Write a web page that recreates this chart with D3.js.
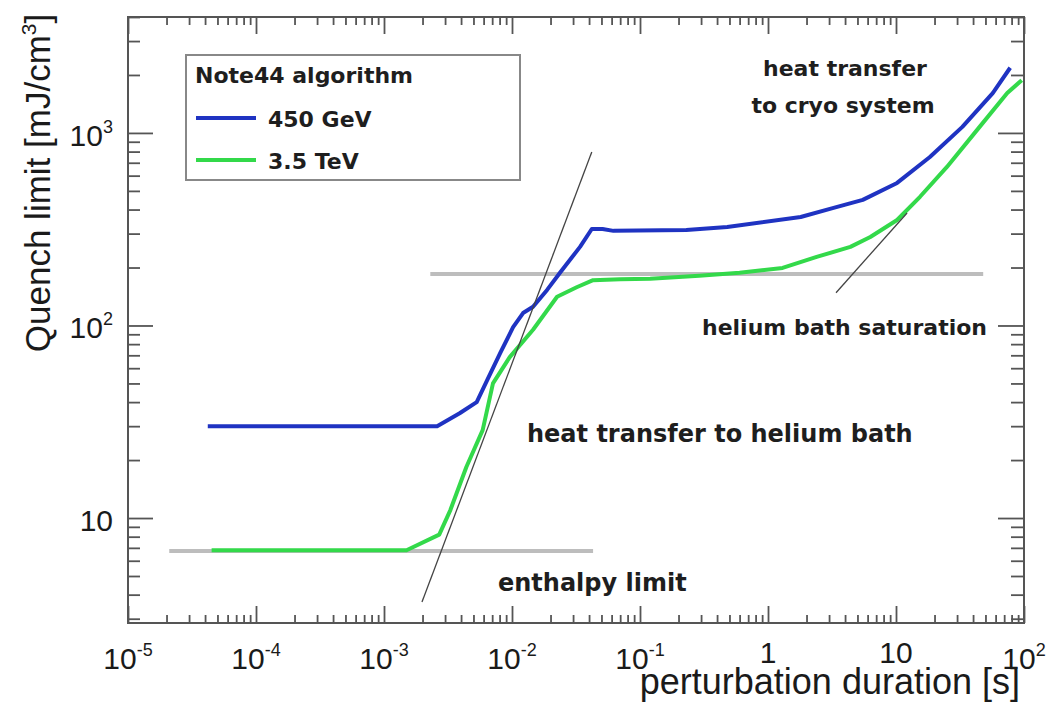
<!DOCTYPE html>
<html>
<head>
<meta charset="utf-8">
<script src="https://cdn.jsdelivr.net/npm/d3@7"></script>
<style>
  body { margin: 0; background: #fff; }
  svg { display: block; }
</style>
</head>
<body>
<svg id="chart" width="1047" height="703"></svg>
<script>
// Quench limit vs. perturbation duration (Note44 algorithm)

// 450 GeV curve: duration [s] and quench limit [mJ/cm^3]
const tBlue = [4.2e-5, 2.6e-3, 3.9e-3, 5.3e-3, 6.4e-3, 8.1e-3, 1.02e-2, 1.22e-2, 1.46e-2, 1.88e-2,
               2.37e-2, 3.4e-2, 4.2e-2, 5.1e-2, 6.2e-2, 0.23, 0.48, 1.8, 3.2, 5.5,
               10.2, 18.4, 33, 57, 78];
const qBlue = [30, 30, 35, 40, 52, 72, 98, 116, 125, 153,
               188, 256, 317, 317, 310, 313, 325, 366, 407, 449,
               550, 750, 1075, 1610, 2180];

// 3.5 TeV curve
const tGreen = [4.5e-5, 1.5e-3, 2.7e-3, 3.3e-3, 4.4e-3, 5.9e-3, 7.1e-3, 9.6e-3, 1.46e-2, 2.25e-2,
                3.2e-2, 4.3e-2, 7.0e-2, 0.12, 0.29, 0.6, 1.3, 2.4, 4.4, 6.3,
                10.2, 15.4, 25, 45, 74, 96];
const qGreen = [6.8, 6.8, 8.2, 11, 18.4, 28.6, 50, 68.5, 95, 141,
                158, 172, 174, 175, 181, 188, 199, 227, 256, 288,
                353, 466, 666, 1075, 1610, 1880];

// Reference limits (horizontal) and asymptotic slopes (diagonal)
const enthalpyT = [2.1e-5, 0.043];
const enthalpyQ = [6.75, 6.75];
const saturationT = [2.3e-3, 48];
const saturationQ = [185, 185];
const bathSlopeT = [1.98e-3, 0.042];
const bathSlopeQ = [3.66, 796];
const cryoSlopeT = [3.4, 12.2];
const cryoSlopeQ = [148, 384];

// Axis ranges and labels
const xDomain = [1e-5, 100];
const yDomain = [2.85, 4000];
const xLabelValues = [1e-5, 1e-4, 1e-3, 1e-2, 1e-1, 1, 10, 100];
const yLabelValues = [10, 100, 1000];

const legendTitle = "Note44 algorithm";
const seriesNames = ["450 GeV", "3.5 TeV"];
const seriesColors = ["#1f33c2", "#33d94a"];

const svg = d3.select("#chart");
const L = 128, R = 1024, T = 17, B = 623;

const x = d3.scaleLog().domain(xDomain).range([L, R]);
const y = d3.scaleLog().domain(yDomain).range([B, T]);

const isDecade = v => Math.abs(Math.log10(v) - Math.round(Math.log10(v))) < 1e-9;
const xTicks = x.ticks().filter(v => v >= xDomain[0] * 0.999 && v <= xDomain[1] * 1.001);
const yTicks = y.ticks();
const xMajor = xTicks.filter(isDecade), xMinor = xTicks.filter(v => !isDecade(v));
const yMajor = yTicks.filter(isDecade), yMinor = yTicks.filter(v => !isDecade(v));

const axisColor = "#555";
const textFont = "'Liberation Sans', Arial, Helvetica, sans-serif";
const boldFont = "'DejaVu Sans', Verdana, sans-serif";

// Ticks on all four sides, pointing inward
function tickAxis(gen, vals, size, tx, ty) {
  const g = svg.append("g").attr("transform", `translate(${tx},${ty})`)
    .call(gen.tickValues(vals).tickSize(size).tickSizeOuter(0).tickFormat(""));
  g.select(".domain").remove();
  g.selectAll("line").attr("stroke", axisColor).attr("stroke-width", 1.8);
}
tickAxis(d3.axisBottom(x), xMinor, -8, 0, B);
tickAxis(d3.axisBottom(x), xMajor, -17, 0, B);
tickAxis(d3.axisTop(x), xMinor, -8, 0, T);
tickAxis(d3.axisTop(x), xMajor, -17, 0, T);
tickAxis(d3.axisLeft(y), yMinor, -12, L, 0);
tickAxis(d3.axisLeft(y), yMajor, -25, L, 0);
tickAxis(d3.axisRight(y), yMinor, -13, R, 0);
tickAxis(d3.axisRight(y), yMajor, -26, R, 0);

// Frame
svg.append("rect").attr("x", L).attr("y", T).attr("width", R - L).attr("height", B - T)
  .attr("fill", "none").attr("stroke", axisColor).attr("stroke-width", 2);

// Tick labels with superscript exponents
function powerLabel(sel, v) {
  const e = Math.round(Math.log10(v));
  if (e === 0) { sel.text("1"); return; }
  if (e === 1) { sel.text("10"); return; }
  sel.append("tspan").text("10");
  sel.append("tspan").attr("font-size", 18).attr("dy", -13).text(String(e));
}
xLabelValues.forEach(v => {
  const plain = v === 1 || v === 10;
  const t = svg.append("text").attr("x", x(v)).attr("y", plain ? 663 : 669)
    .attr("text-anchor", "middle").attr("font-family", textFont)
    .attr("font-size", 30).attr("fill", "#1a1a1a");
  powerLabel(t, v);
});
yLabelValues.forEach(v => {
  const t = svg.append("text").attr("x", 113).attr("y", y(v) + 13)
    .attr("text-anchor", "end").attr("font-family", textFont)
    .attr("font-size", 30).attr("fill", "#1a1a1a");
  powerLabel(t, v);
});

// Axis titles
const yTitle = svg.append("text").attr("transform", "translate(50,183) rotate(-90)")
  .attr("text-anchor", "middle").attr("font-family", textFont)
  .attr("font-size", 35).attr("fill", "#1a1a1a");
yTitle.append("tspan").text("Quench limit [mJ/cm");
yTitle.append("tspan").attr("font-size", 21).attr("dy", -14).text("3");
yTitle.append("tspan").attr("dy", 14).text("]");

svg.append("text").attr("x", 1020).attr("y", 694).attr("text-anchor", "end")
  .attr("font-family", textFont).attr("font-size", 36).attr("fill", "#1a1a1a")
  .text("perturbation duration [s]");

// Helpers for series built from parallel arrays
const zip = (a, b) => a.map((v, i) => [v, b[i]]);
const line = d3.line().x(d => x(d[0])).y(d => y(d[1]));

// Horizontal reference limits
[[enthalpyT, enthalpyQ], [saturationT, saturationQ]].forEach(([t, q]) => {
  svg.append("path").attr("d", line(zip(t, q)))
    .attr("fill", "none").attr("stroke", "#bdbdbd").attr("stroke-width", 4);
});

// Curves
svg.append("path").attr("d", line(zip(tBlue, qBlue)))
  .attr("fill", "none").attr("stroke", seriesColors[0]).attr("stroke-width", 4)
  .attr("stroke-linejoin", "round");
svg.append("path").attr("d", line(zip(tGreen, qGreen)))
  .attr("fill", "none").attr("stroke", seriesColors[1]).attr("stroke-width", 4)
  .attr("stroke-linejoin", "round");

// Asymptotic slopes
[[bathSlopeT, bathSlopeQ], [cryoSlopeT, cryoSlopeQ]].forEach(([t, q]) => {
  svg.append("path").attr("d", line(zip(t, q)))
    .attr("fill", "none").attr("stroke", "#444").attr("stroke-width", 1.3);
});

// Region annotations
const notes = [
  { text: "heat transfer", x: 845, y: 76, size: 22, anchor: "middle" },
  { text: "to cryo system", x: 843, y: 113, size: 22, anchor: "middle" },
  { text: "helium bath saturation", x: 702, y: 335, size: 22, anchor: "start" },
  { text: "heat transfer to helium bath", x: 527, y: 442, size: 24, anchor: "start" },
  { text: "enthalpy limit", x: 498, y: 591, size: 24, anchor: "start" }
];
notes.forEach(n => {
  svg.append("text").attr("x", n.x).attr("y", n.y).attr("text-anchor", n.anchor)
    .attr("font-family", boldFont).attr("font-weight", "bold")
    .attr("font-size", n.size).attr("fill", "#1e1e1e").text(n.text);
});

// Legend
const lg = svg.append("g");
lg.append("rect").attr("x", 186).attr("y", 55).attr("width", 334).attr("height", 125)
  .attr("fill", "#fff").attr("stroke", "#888").attr("stroke-width", 2);
lg.append("text").attr("x", 195).attr("y", 83).attr("font-family", boldFont)
  .attr("font-weight", "bold").attr("font-size", 22).attr("fill", "#1e1e1e").text(legendTitle);
seriesNames.forEach((name, i) => {
  const yy = 118 + i * 42;
  lg.append("line").attr("x1", 196).attr("x2", 256).attr("y1", yy).attr("y2", yy)
    .attr("stroke", seriesColors[i]).attr("stroke-width", 4);
  lg.append("text").attr("x", 268).attr("y", yy + 9).attr("font-family", boldFont)
    .attr("font-weight", "bold").attr("font-size", 22).attr("fill", "#1e1e1e").text(name);
});
</script>
</body>
</html>
